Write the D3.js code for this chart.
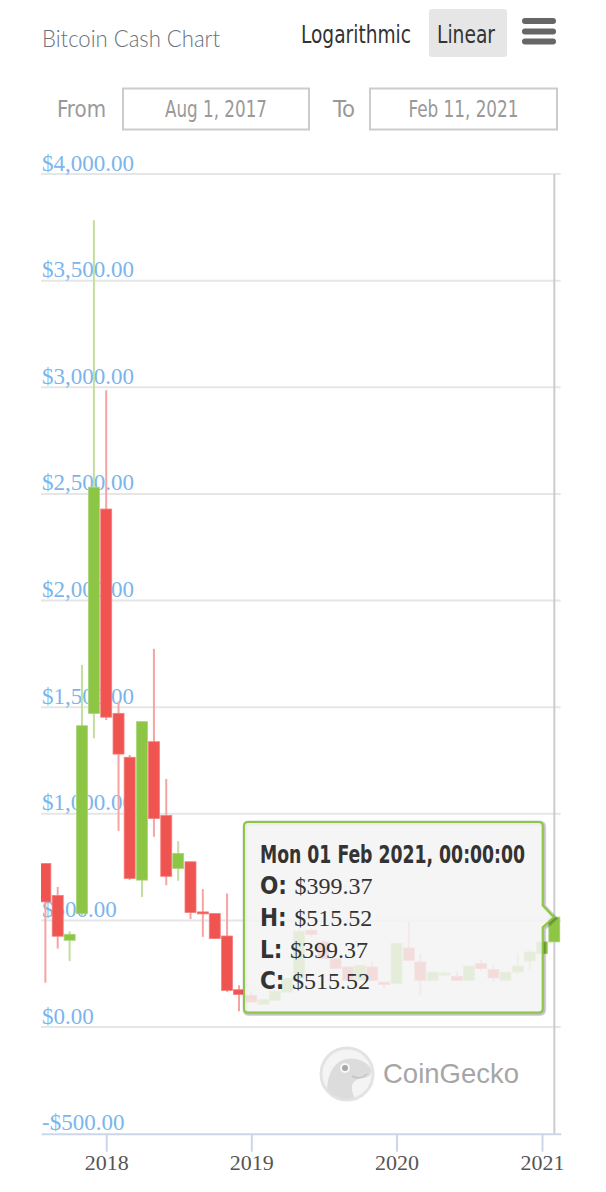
<!DOCTYPE html>
<html>
<head>
<meta charset="utf-8">
<script src="https://cdn.jsdelivr.net/npm/d3@7"></script>
<style>
  html, body { margin: 0; padding: 0; background: #fff; }
  svg { display: block; }
</style>
</head>
<body>
<div id="chart"></div>
<script>
// monthly candles, Bitcoin Cash (USD)
const months = [
  "2017-08", "2017-09", "2017-10", "2017-11", "2017-12",
  "2018-01", "2018-02", "2018-03", "2018-04", "2018-05", "2018-06",
  "2018-07", "2018-08", "2018-09", "2018-10", "2018-11", "2018-12",
  "2019-01", "2019-02", "2019-03", "2019-04", "2019-05", "2019-06",
  "2019-07", "2019-08", "2019-09", "2019-10", "2019-11", "2019-12",
  "2020-01", "2020-02", "2020-03", "2020-04", "2020-05", "2020-06",
  "2020-07", "2020-08", "2020-09", "2020-10", "2020-11", "2020-12",
  "2021-01", "2021-02"
];
const opens = [
  767, 617, 407, 532, 1471,
  2429, 1471, 1265, 689, 1338, 992,
  744, 775, 540, 532, 427, 175,
  149, 107, 125, 164, 228, 454,
  399, 321, 282, 219, 282, 211,
  204, 371, 305, 219, 250, 238,
  219, 298, 270, 219, 258, 310,
  344, 399.37
];
const highs = [
  767, 657, 449, 1698, 3783,
  2986, 1526, 1276, 1432, 1773, 1163,
  872, 775, 647, 532, 626, 196,
  168, 130, 169, 228, 462, 462,
  410, 321, 282, 290, 305, 211,
  392, 493, 344, 258, 262, 261,
  286, 316, 290, 258, 346, 360,
  399.37, 515.52
];
const lows = [
  208, 368, 310, 520, 1354,
  1440, 920, 690, 610, 892, 665,
  686, 506, 423, 415, 165, 74,
  117, 107, 125, 164, 228, 422,
  321, 274, 219, 219, 219, 180,
  204, 313, 149, 219, 240, 219,
  219, 263, 211, 219, 243, 266,
  344, 399.37
];
const closes = [
  587, 426, 435, 1413, 2531,
  1453, 1280, 697, 1432, 978, 707,
  814, 537, 532, 415, 172, 153,
  117, 130, 169, 228, 450, 434,
  321, 274, 219, 290, 219, 199,
  392, 313, 219, 258, 253, 219,
  286, 274, 230, 258, 286, 352,
  399.37, 515.52
];
const yTicks = [-500, 0, 500, 1000, 1500, 2000, 2500, 3000, 3500, 4000];
const xTicks = ["2018-01-01", "2019-01-01", "2020-01-01", "2021-01-01"];
const hoverIndex = 42;

const width = 606;
const height = 1192;
const plot = { left: 41, right: 560.7, top: 174, bottom: 1133.7 };

const data = months.map((m, i) => ({
  date: new Date(m + "-01T00:00:00Z"),
  open: opens[i], high: highs[i], low: lows[i], close: closes[i]
}));

const x = d3.scaleUtc()
  .domain([new Date("2017-07-21T00:00:00Z"), new Date("2021-02-17T00:00:00Z")])
  .range([plot.left, plot.right]);

const y = d3.scaleLinear()
  .domain([-500, 4000])
  .range([plot.bottom, plot.top]);

const up = "#8dc545", down = "#f05450";
const upWick = "#c3df9f", downWick = "#f5a4a2";

const svg = d3.select("#chart")
  .append("svg")
  .attr("width", width)
  .attr("height", height)
  .attr("viewBox", [0, 0, width, height]);

// ---- header ----
const narrow = "'Liberation Sans Narrow', 'DejaVu Sans Condensed', 'Roboto', sans-serif";

svg.append("text")
  .attr("x", 42).attr("y", 46.5)
  .attr("font-family", "Lato, 'Open Sans', sans-serif")
  .attr("font-weight", 300)
  .attr("font-size", 24)
  .attr("fill", "#68717c")
  .attr("textLength", 178).attr("lengthAdjust", "spacingAndGlyphs")
  .text("Bitcoin Cash Chart");

svg.append("text")
  .attr("x", 301).attr("y", 43.3)
  .attr("font-family", narrow)
  .attr("font-size", 24)
  .attr("fill", "#333")
  .attr("textLength", 110).attr("lengthAdjust", "spacingAndGlyphs")
  .text("Logarithmic");

svg.append("rect")
  .attr("x", 429).attr("y", 9).attr("width", 78).attr("height", 48)
  .attr("rx", 3).attr("fill", "#e6e6e6");

svg.append("text")
  .attr("x", 437).attr("y", 43.3)
  .attr("font-family", narrow)
  .attr("font-size", 24)
  .attr("fill", "#333")
  .attr("textLength", 58).attr("lengthAdjust", "spacingAndGlyphs")
  .text("Linear");

// menu icon
svg.append("g")
  .selectAll("rect")
  .data([18, 28.5, 38.5])
  .join("rect")
  .attr("x", 522).attr("y", (d) => d)
  .attr("width", 34).attr("height", 6)
  .attr("rx", 3).attr("fill", "#666");

// date range inputs
svg.append("text")
  .attr("x", 57).attr("y", 116.7)
  .attr("font-family", narrow).attr("font-size", 23).attr("fill", "#999")
  .attr("textLength", 49).attr("lengthAdjust", "spacingAndGlyphs")
  .text("From");
svg.append("text")
  .attr("x", 333).attr("y", 116.7)
  .attr("font-family", narrow).attr("font-size", 23).attr("fill", "#999")
  .attr("textLength", 22).attr("lengthAdjust", "spacingAndGlyphs")
  .text("To");

const inputs = [
  { x: 122, w: 188, label: "Aug 1, 2017", tw: 102 },
  { x: 369, w: 189, label: "Feb 11, 2021", tw: 110 }
];
const inp = svg.append("g").selectAll("g").data(inputs).join("g");
inp.append("rect")
  .attr("x", (d) => d.x + 1).attr("y", 88.5)
  .attr("width", (d) => d.w - 2).attr("height", 41)
  .attr("fill", "#fff").attr("stroke", "#cccccc").attr("stroke-width", 2);
inp.append("text")
  .attr("x", (d) => d.x + d.w / 2).attr("y", 116.7)
  .attr("text-anchor", "middle")
  .attr("font-family", narrow).attr("font-size", 23).attr("fill", "#999")
  .attr("textLength", (d) => d.tw).attr("lengthAdjust", "spacingAndGlyphs")
  .text((d) => d.label);

// ---- watermark ----
const wm = svg.append("g");
wm.append("clipPath").attr("id", "geckoClip")
  .append("circle").attr("cx", 347).attr("cy", 1074).attr("r", 25);
wm.append("circle")
  .attr("cx", 347).attr("cy", 1074).attr("r", 26)
  .attr("fill", "#f4f4f4").attr("stroke", "#e3e3e3").attr("stroke-width", 3);
wm.append("path")
  .attr("clip-path", "url(#geckoClip)")
  .attr("d", "M328,1102 C325,1082 330,1063 346,1059 C356,1057 364,1061 369,1066 C373,1071 371,1077 364,1078 C356,1079 351,1082 352,1090 C353,1095 355,1099 357,1103 Z")
  .attr("fill", "#dcdcdc");
wm.append("circle").attr("cx", 345).attr("cy", 1068).attr("r", 5).attr("fill", "#f7f7f7");
wm.append("circle").attr("cx", 345).attr("cy", 1068).attr("r", 3).attr("fill", "#a8a8a8");
wm.append("path")
  .attr("d", "M352,1076 C357,1079 363,1078 367,1074")
  .attr("fill", "none").attr("stroke", "#c4c4c4").attr("stroke-width", 1.5);
wm.append("text")
  .attr("x", 383).attr("y", 1082.5)
  .attr("font-family", "'Liberation Sans', Arial, sans-serif")
  .attr("font-size", 28).attr("fill", "#a6a6a6")
  .attr("textLength", 136).attr("lengthAdjust", "spacingAndGlyphs")
  .text("CoinGecko");

// ---- grid + y labels ----
svg.append("g")
  .selectAll("line")
  .data(yTicks.filter((v) => v > -500))
  .join("line")
  .attr("x1", plot.left).attr("x2", plot.right)
  .attr("y1", (d) => y(d)).attr("y2", (d) => y(d))
  .attr("stroke", "#e6e6e6").attr("stroke-width", 2);

const money = (v) => (v < 0 ? "-" : "") + d3.format("$,.2f")(Math.abs(v));
svg.append("g")
  .selectAll("text")
  .data(yTicks)
  .join("text")
  .attr("x", 42).attr("y", (d) => y(d) - 3.5)
  .attr("font-family", "'Liberation Serif', 'Times New Roman', serif")
  .attr("font-size", 23)
  .attr("fill", "#7cb5ec")
  .text(money);

// crosshair on hovered candle
svg.append("line")
  .attr("x1", x(data[hoverIndex].date)).attr("x2", x(data[hoverIndex].date))
  .attr("y1", plot.top).attr("y2", plot.bottom)
  .attr("stroke", "#cccccc").attr("stroke-width", 2);

// ---- candles ----
svg.append("clipPath").attr("id", "plotClip")
  .append("rect")
  .attr("x", plot.left).attr("y", plot.top)
  .attr("width", plot.right - plot.left).attr("height", plot.bottom - plot.top);

const bw = 11;
const candles = svg.append("g")
  .attr("clip-path", "url(#plotClip)")
  .selectAll("g")
  .data(data)
  .join("g");

candles.append("line")
  .attr("x1", (d) => x(d.date)).attr("x2", (d) => x(d.date))
  .attr("y1", (d) => y(d.high)).attr("y2", (d) => y(d.low))
  .attr("stroke", (d) => (d.close >= d.open ? upWick : downWick))
  .attr("stroke-width", 2);

candles.append("rect")
  .attr("x", (d) => x(d.date) - bw / 2)
  .attr("width", bw)
  .attr("y", (d) => y(Math.max(d.open, d.close)))
  .attr("height", (d) => Math.max(2, Math.abs(y(d.open) - y(d.close))))
  .attr("fill", (d) => (d.close >= d.open ? up : down))
  .attr("stroke", (d) => (d.close >= d.open ? "#a9d47a" : "#f47d7a"))
  .attr("stroke-width", 0.8);

// ---- x axis ----
const xAxis = svg.append("g")
  .attr("transform", `translate(0,${plot.bottom})`)
  .call(
    d3.axisBottom(x)
      .tickValues(xTicks.map((d) => new Date(d + "T00:00:00Z")))
      .tickFormat(d3.utcFormat("%Y"))
      .tickSize(18)
      .tickSizeOuter(0)
  );
xAxis.select(".domain").attr("stroke", "#ccd6eb").attr("stroke-width", 2);
xAxis.selectAll(".tick line").attr("stroke", "#ccd6eb").attr("stroke-width", 2);
xAxis.selectAll(".tick text")
  .attr("font-family", "'Liberation Serif', 'Times New Roman', serif")
  .attr("font-size", 22)
  .attr("fill", "#555");

// ---- tooltip ----
const tip = data[hoverIndex];
const box = { l: 244, t: 822, r: 542.7, b: 1012.5, rad: 4 };
const ax = x(tip.date) - 0.5, ay = 917.3;
const tipPath = [
  `M${box.l + box.rad},${box.t}`,
  `L${box.r - box.rad},${box.t}`,
  `Q${box.r},${box.t} ${box.r},${box.t + box.rad}`,
  `L${box.r},${ay - 12}`,
  `L${ax},${ay}`,
  `L${box.r},${ay + 10}`,
  `L${box.r},${box.b - box.rad}`,
  `Q${box.r},${box.b} ${box.r - box.rad},${box.b}`,
  `L${box.l + box.rad},${box.b}`,
  `Q${box.l},${box.b} ${box.l},${box.b - box.rad}`,
  `L${box.l},${box.t + box.rad}`,
  `Q${box.l},${box.t} ${box.l + box.rad},${box.t}`,
  "Z"
].join(" ");

const tg = svg.append("g");
[5, 3, 1].forEach((w) => {
  tg.append("path")
    .attr("d", tipPath)
    .attr("transform", "translate(1,1)")
    .attr("fill", "none")
    .attr("stroke", "#000")
    .attr("stroke-opacity", 0.05 * w / 1.6)
    .attr("stroke-width", w);
});
tg.append("path")
  .attr("d", tipPath)
  .attr("fill", "rgba(243,243,243,0.86)")
  .attr("stroke", up)
  .attr("stroke-width", 2);

tg.append("text")
  .attr("x", 260).attr("y", 863)
  .attr("font-family", narrow)
  .attr("font-weight", "bold")
  .attr("font-size", 24)
  .attr("fill", "#333")
  .attr("textLength", 265).attr("lengthAdjust", "spacingAndGlyphs")
  .text(d3.utcFormat("%a %d %b %Y, %H:%M:%S")(tip.date));

const tipRows = [
  { k: "O", v: tip.open, yy: 894 },
  { k: "H", v: tip.high, yy: 926 },
  { k: "L", v: tip.low, yy: 957.7 },
  { k: "C", v: tip.close, yy: 988.5 }
];
const rowText = tg.selectAll("text.row")
  .data(tipRows)
  .join("text")
  .attr("class", "row")
  .attr("x", 260).attr("y", (d) => d.yy)
  .attr("fill", "#333")
  .attr("font-size", 24);
rowText.append("tspan")
  .attr("font-family", narrow)
  .attr("font-weight", "bold")
  .text((d) => d.k + ": ");
rowText.append("tspan")
  .attr("font-family", "'Liberation Serif', 'Times New Roman', serif")
  .text((d) => d3.format("$,.2f")(d.v));
</script>
</body>
</html>
